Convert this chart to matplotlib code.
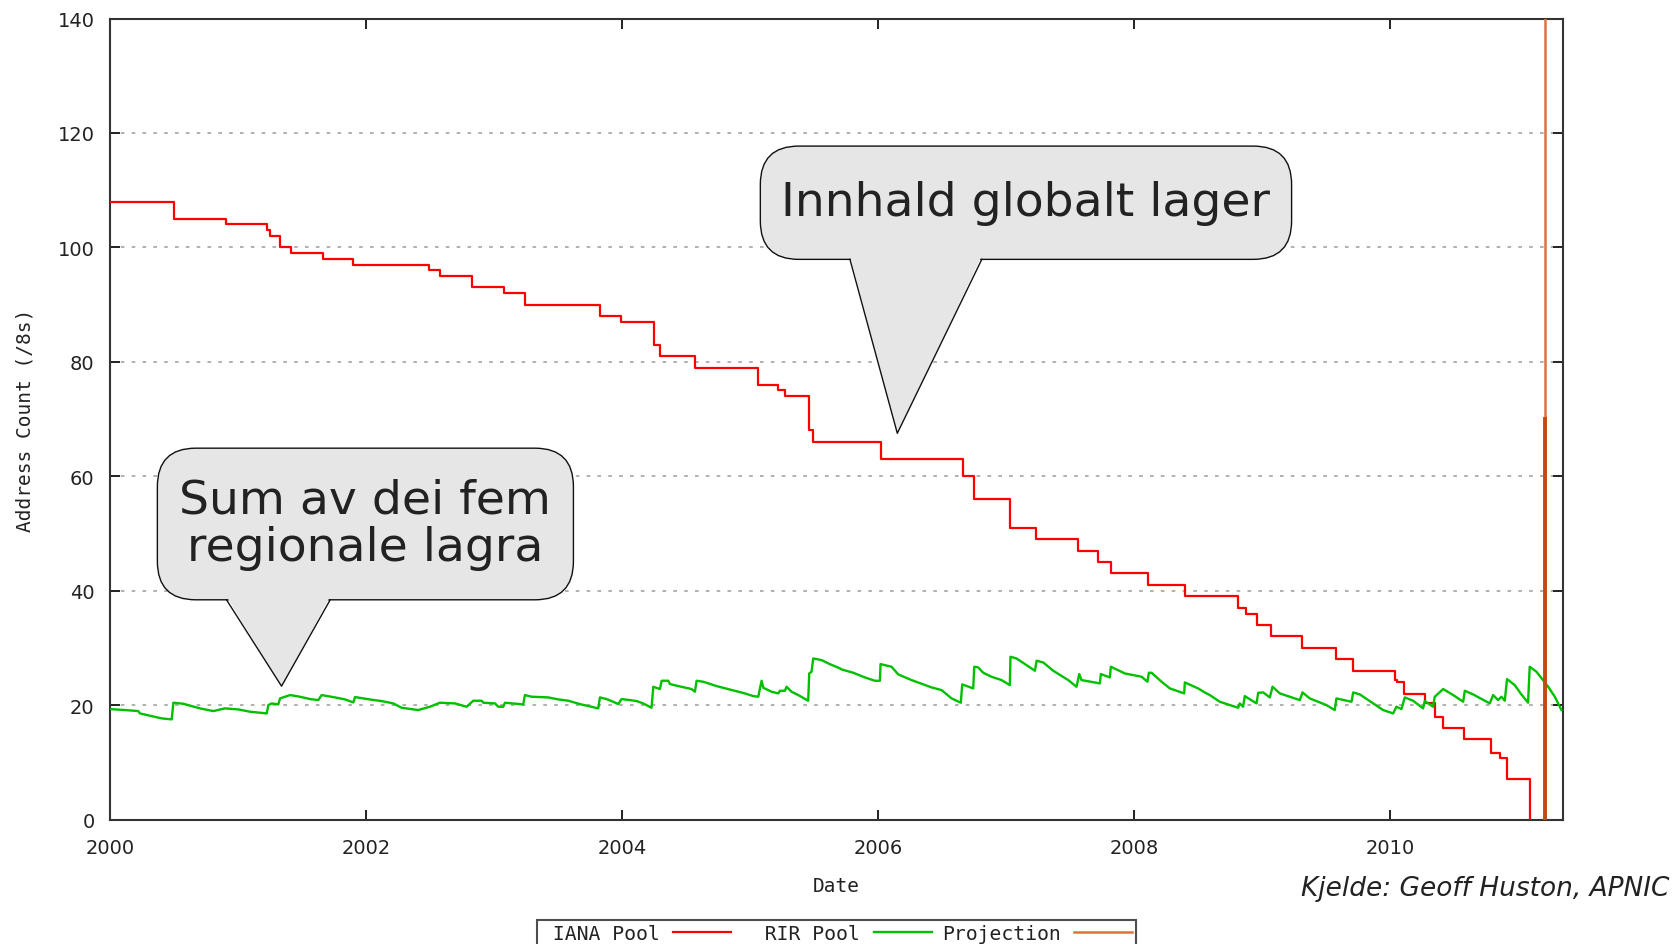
import matplotlib
matplotlib.use('Agg')
import matplotlib.pyplot as plt
from matplotlib.patches import FancyBboxPatch, Polygon

# IANA pool (step data, value holds from year until next year)
iana_year = [2000.0, 2000.50, 2000.91, 2001.23, 2001.25, 2001.33, 2001.41, 2001.66, 2001.90,
             2002.49, 2002.58, 2002.83, 2003.08, 2003.24, 2003.83, 2003.99, 2004.25, 2004.30,
             2004.57, 2005.06, 2005.22, 2005.27, 2005.46, 2005.49, 2006.02, 2006.66, 2006.75,
             2007.03, 2007.23, 2007.56, 2007.72, 2007.82, 2008.11, 2008.40, 2008.81, 2008.87,
             2008.96, 2009.07, 2009.31, 2009.58, 2009.71, 2010.04, 2010.05, 2010.11, 2010.27,
             2010.35, 2010.41, 2010.58, 2010.79, 2010.86, 2010.91, 2011.09]
iana_val = [108, 105, 104, 103, 102, 100, 99, 98, 97,
            96, 95, 93, 92, 90, 88, 87, 83, 81,
            79, 76, 75, 74, 68, 66, 63, 60, 56,
            51, 49, 47, 45, 43, 41, 39, 37, 36,
            34, 32, 30, 28, 26, 24.3, 24, 22, 20.3,
            18, 16, 14, 11.7, 10.7, 7, 0]

# RIR pool (sum of the five regional registries)
rir_year = [2000.000, 2000.117, 2000.221, 2000.234, 2000.312, 2000.404, 2000.482, 2000.495, 2000.573,
            2000.638, 2000.703, 2000.807, 2000.898, 2001.002, 2001.093, 2001.224, 2001.237, 2001.263,
            2001.315, 2001.328, 2001.406, 2001.484, 2001.562, 2001.627, 2001.653, 2001.757, 2001.835,
            2001.901, 2001.914, 2002.044, 2002.122, 2002.213, 2002.278, 2002.408, 2002.499, 2002.577,
            2002.695, 2002.786, 2002.838, 2002.903, 2002.916, 2003.007, 2003.033, 2003.072, 2003.085,
            2003.228, 2003.241, 2003.293, 2003.423, 2003.502, 2003.580, 2003.671, 2003.736, 2003.814,
            2003.827, 2003.879, 2003.931, 2003.970, 2003.996, 2004.061, 2004.113, 2004.165, 2004.230,
            2004.244, 2004.296, 2004.309, 2004.361, 2004.374, 2004.439, 2004.543, 2004.569, 2004.582,
            2004.634, 2004.738, 2004.829, 2004.959, 2005.025, 2005.064, 2005.077, 2005.090, 2005.103,
            2005.168, 2005.220, 2005.233, 2005.272, 2005.285, 2005.324, 2005.376, 2005.454, 2005.462,
            2005.480, 2005.493, 2005.558, 2005.623, 2005.702, 2005.714, 2005.806, 2005.897, 2005.975,
            2006.014, 2006.019, 2006.105, 2006.157, 2006.261, 2006.417, 2006.496, 2006.574, 2006.646,
            2006.657, 2006.743, 2006.751, 2006.782, 2006.821, 2006.886, 2006.964, 2007.029, 2007.034,
            2007.081, 2007.225, 2007.238, 2007.290, 2007.368, 2007.485, 2007.550, 2007.571, 2007.589,
            2007.732, 2007.740, 2007.810, 2007.818, 2007.927, 2008.058, 2008.104, 2008.115, 2008.136,
            2008.214, 2008.279, 2008.391, 2008.396, 2008.500, 2008.552, 2008.591, 2008.669, 2008.812,
            2008.825, 2008.851, 2008.864, 2008.956, 2008.969, 2009.008, 2009.060, 2009.081, 2009.138,
            2009.294, 2009.315, 2009.372, 2009.502, 2009.567, 2009.580, 2009.698, 2009.711, 2009.763,
            2009.867, 2009.945, 2010.023, 2010.049, 2010.088, 2010.114, 2010.179, 2010.257, 2010.270,
            2010.335, 2010.348, 2010.414, 2010.492, 2010.570, 2010.583, 2010.648, 2010.778, 2010.804,
            2010.843, 2010.869, 2010.895, 2010.913, 2010.973, 2011.025, 2011.077, 2011.090, 2011.143,
            2011.234, 2011.286, 2011.338]
rir_val = [19.30, 19.13, 18.95, 18.54, 18.14, 17.67, 17.50, 20.41, 20.23,
           19.83, 19.42, 18.95, 19.42, 19.24, 18.84, 18.54, 20.00, 20.29,
           20.12, 21.16, 21.75, 21.46, 21.05, 20.87, 21.75, 21.34, 20.99,
           20.47, 21.40, 20.93, 20.70, 20.29, 19.53, 19.13, 19.71, 20.41,
           20.29, 19.71, 20.76, 20.76, 20.41, 20.29, 19.71, 19.71, 20.41,
           20.12, 21.75, 21.46, 21.34, 20.99, 20.76, 20.17, 19.83, 19.42,
           21.34, 21.05, 20.58, 20.17, 21.05, 20.87, 20.70, 20.29, 19.53,
           23.20, 22.80, 24.25, 24.25, 23.67, 23.32, 22.80, 22.33, 24.25,
           24.08, 23.32, 22.80, 22.04, 21.57, 21.46, 22.91, 24.25, 23.03,
           22.33, 22.04, 22.50, 22.50, 23.20, 22.33, 21.75, 20.76, 25.53,
           25.82, 28.15, 27.86, 27.16, 26.41, 26.23, 25.65, 24.83, 24.25,
           24.25, 27.16, 26.70, 25.36, 24.37, 23.09, 22.62, 21.16, 20.41,
           23.61, 22.91, 26.70, 26.58, 25.65, 24.95, 24.37, 23.49, 28.44,
           28.15, 26.00, 27.75, 27.45, 26.00, 24.37, 23.20, 25.42, 24.37,
           23.79, 25.42, 24.83, 26.70, 25.53, 24.95, 24.08, 25.65, 25.65,
           24.08, 22.91, 22.04, 23.96, 22.91, 22.21, 21.75, 20.58, 19.53,
           20.29, 19.71, 21.57, 20.29, 22.15, 22.21, 21.34, 23.20, 22.04,
           20.87, 22.21, 21.16, 20.00, 19.13, 21.16, 20.58, 22.21, 21.86,
           20.29, 19.13, 18.54, 19.71, 19.30, 21.34, 20.76, 19.42, 20.70,
           19.71, 21.46, 22.80, 21.75, 20.58, 22.50, 21.86, 20.29, 21.75,
           20.87, 21.46, 20.76, 24.54, 23.49, 21.86, 20.41, 26.70, 25.82,
           23.20, 21.46, 19.13]

# projection (exhaustion date marker)
proj_year = [2011.21, 2011.21]
proj_val = [0, 140]
spike_val = [0, 70]

x_ticks = [2000, 2002, 2004, 2006, 2008, 2010]
y_ticks = [0, 20, 40, 60, 80, 100, 120, 140]

fig = plt.figure(figsize=(16.73, 9.45), dpi=100)
ax = fig.add_axes([110/1673, 1 - 820.5/945, 1453/1673, 801/945])

# gnuplot style key: labels right-justified in fixed width columns
ax.step(iana_year, iana_val, where='post', color='#ff0000', lw=1.6, label=' IANA Pool', zorder=3)
ax.plot(rir_year, rir_val, color='#00c000', lw=1.7, label='  RIR Pool', zorder=3)
ax.plot(proj_year, proj_val, color='#e0703c', lw=1.8, label='Projection', zorder=4)
ax.plot(proj_year, spike_val, color='#c04c10', lw=2.8, zorder=4)

ax.set_xlim(2000, 2011.35)
ax.set_ylim(0, 140)
ax.set_xticks(x_ticks)
ax.set_xticklabels([str(t) for t in x_ticks])
ax.set_yticks(y_ticks)
ax.tick_params(direction='in', length=7, width=1.4, top=True, right=True,
               labelsize=14, labelcolor='#222222', color='#222222')
ax.tick_params(axis='x', pad=13)
ax.tick_params(axis='y', pad=11)
for s in ax.spines.values():
    s.set_linewidth(1.5)
    s.set_color('#333333')
for v in y_ticks[1:-1]:
    ax.axhline(v, color='#aaaaaa', lw=1.3, ls=(0, (2, 4)), zorder=1)

ax.set_xlabel('Date', family='DejaVu Sans Mono', fontsize=14, color='#222222')
ax.xaxis.set_label_coords(0.5, -0.071)
ax.set_ylabel('Address Count (/8s)', family='DejaVu Sans Mono', fontsize=14, color='#222222')
ax.yaxis.set_label_coords(-0.052, 0.5)


def callout(x0, x1, y0, y1, bx0, bx1, tip, text):
    box = FancyBboxPatch((x0, y0), x1 - x0, y1 - y0,
                         boxstyle='round,pad=0,rounding_size=0.3',
                         mutation_aspect=22.4, facecolor='#e6e6e6',
                         edgecolor='#111111', lw=1.0, zorder=6)
    ax.add_patch(box)
    tail = Polygon([(bx0, y0 + 0.6), (bx1, y0 + 0.6), tip], closed=True,
                   facecolor='#e6e6e6', edgecolor='none', zorder=7)
    ax.add_patch(tail)
    ax.plot([bx0, tip[0], bx1], [y0, tip[1], y0], color='#111111', lw=1.0, zorder=8)
    ax.text((x0 + x1) / 2, (y0 + y1) / 2, text, ha='center', va='center',
            fontsize=34, color='#222222', linespacing=1.08, zorder=9)


callout(2005.08, 2009.23, 97.9, 117.7, 2005.78, 2006.81, (2006.15, 67.5), 'Innhald globalt lager')
callout(2000.37, 2003.62, 38.4, 64.9, 2000.91, 2001.72, (2001.34, 23.3), 'Sum av dei fem\nregionale lagra')

fig.text(1669/1673, 1 - 889/945, 'Kjelde: Geoff Huston, APNIC', ha='right', va='center',
         fontsize=19, style='italic', color='#222222')

leg = fig.legend(loc='upper center', bbox_to_anchor=(0.5, 1 - 921/945), ncol=3,
                 markerfirst=False, frameon=True, fancybox=False, handlelength=2.95,
                 handletextpad=0.7, columnspacing=0.5, borderpad=0.2, borderaxespad=0,
                 prop={'family': 'DejaVu Sans Mono', 'size': 14.2})
leg.get_frame().set_edgecolor('#222222')
leg.get_frame().set_linewidth(1.5)
for t in leg.get_texts():
    t.set_color('#222222')

fig.savefig('out.png', dpi=100)
